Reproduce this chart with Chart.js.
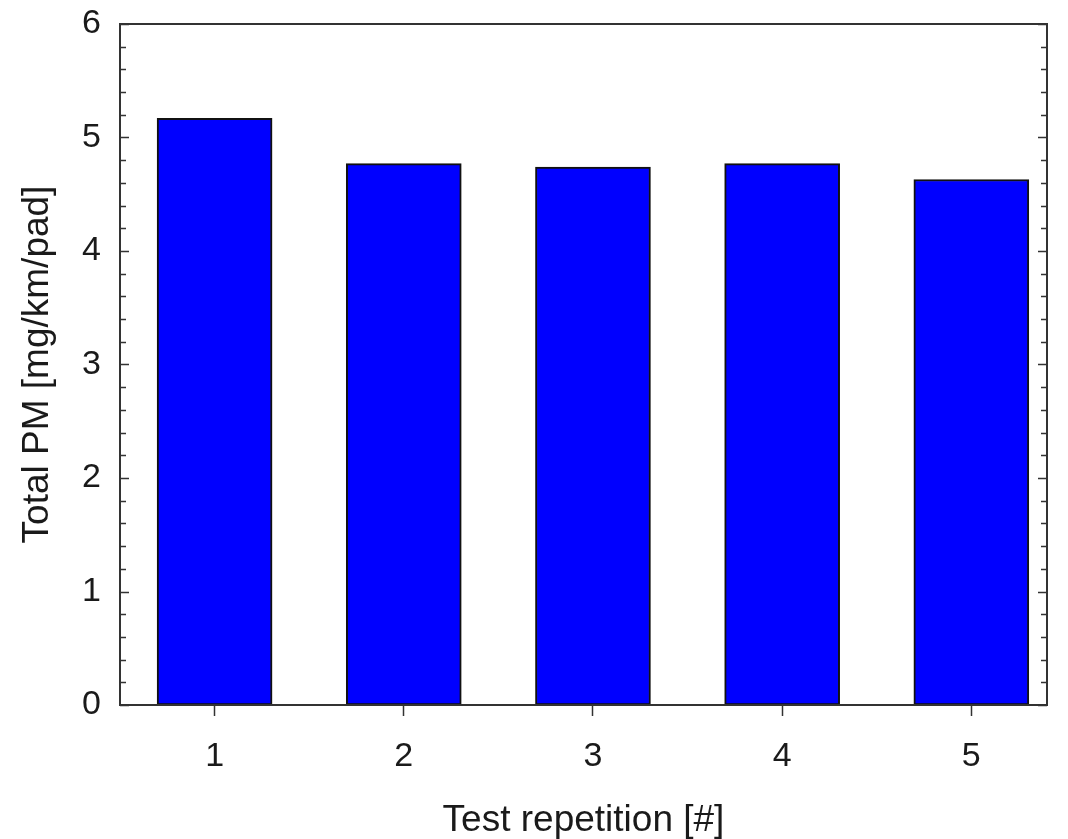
<!DOCTYPE html>
<html>
<head>
<meta charset="utf-8">
<script src="https://cdn.jsdelivr.net/npm/chart.js@4.4.1/dist/chart.umd.min.js"></script>
<style>
  html, body { margin: 0; padding: 0; background: #fff; }
</style>
</head>
<body>
<canvas id="chartPM" width="1068" height="839"></canvas>
<script>
// data
const repetitions = [1, 2, 3, 4, 5];
const totalPM = [5.17, 4.77, 4.74, 4.77, 4.63];
const yTicks = [0, 1, 2, 3, 4, 5, 6];
const yMinorStep = 0.2;

// frame + inward ticks on left/right, like the original plot
const frameTicks = {
    id: 'frameTicks',
    afterDraw(chart) {
        const { ctx, chartArea: a } = chart;
        const y = chart.scales.y;
        ctx.save();
        ctx.strokeStyle = '#333';
        ctx.lineWidth = 2;
        ctx.strokeRect(a.left, a.top, a.right - a.left, a.bottom - a.top);
        ctx.lineWidth = 1.5;
        ctx.beginPath();
        for (let v = 0; v <= 6.0001; v += yMinorStep) {
            const py = Math.round(y.getPixelForValue(v)) + 0.5;
            const major = Math.abs(v - Math.round(v)) < 0.001;
            const len = major ? 9 : 6;
            ctx.moveTo(a.left, py);
            ctx.lineTo(a.left + len, py);
            ctx.moveTo(a.right, py);
            ctx.lineTo(a.right - len, py);
        }
        ctx.stroke();
        ctx.restore();
    }
};

const ctx = document.getElementById('chartPM').getContext('2d');
const chartPM = new Chart(ctx, {
    type: 'bar',
    data: {
        datasets: [{
            data: repetitions.map((r, i) => ({ x: r, y: totalPM[i] })),
            backgroundColor: '#0000ff',
            borderColor: '#111',
            borderWidth: 2,
            borderSkipped: false,
            barThickness: 115
        }]
    },
    options: {
        responsive: false,
        devicePixelRatio: 1,
        animation: false,
        layout: {
            padding: { top: 24, right: 21, left: 0, bottom: 0 }
        },
        plugins: {
            legend: { display: false },
            tooltip: { enabled: false }
        },
        scales: {
            x: {
                type: 'linear',
                min: 0.5,
                max: 5.4,
                offset: false,
                afterBuildTicks: s => { s.ticks = repetitions.map(v => ({ value: v })); },
                afterFit: s => { s.height = 134; s.paddingLeft = 0; s.paddingRight = 0; },
                grid: {
                    offset: false,
                    drawOnChartArea: false,
                    drawTicks: true,
                    tickLength: 11,
                    tickWidth: 1.5,
                    color: '#333'
                },
                border: { display: false },
                ticks: {
                    padding: 20,
                    color: '#1a1a1a',
                    font: { family: 'Liberation Sans', size: 34 }
                },
                title: {
                    display: true,
                    text: 'Test repetition [#]',
                    color: '#1a1a1a',
                    font: { family: 'Liberation Sans', size: 37 },
                    padding: { top: 0, bottom: -4 }
                }
            },
            y: {
                min: 0,
                max: 6,
                afterBuildTicks: s => { s.ticks = yTicks.map(v => ({ value: v })); },
                afterFit: s => { s.width = 120; s.paddingTop = 0; s.paddingBottom = 0; },
                grid: { display: false, drawTicks: false },
                border: { display: false },
                ticks: {
                    padding: 19,
                    color: '#1a1a1a',
                    font: { family: 'Liberation Sans', size: 34 }
                },
                title: {
                    display: true,
                    text: 'Total PM [mg/km/pad]',
                    color: '#1a1a1a',
                    font: { family: 'Liberation Sans', size: 37 },
                    padding: { top: 16, bottom: 0 }
                }
            }
        }
    },
    plugins: [frameTicks]
});
</script>
</body>
</html>
